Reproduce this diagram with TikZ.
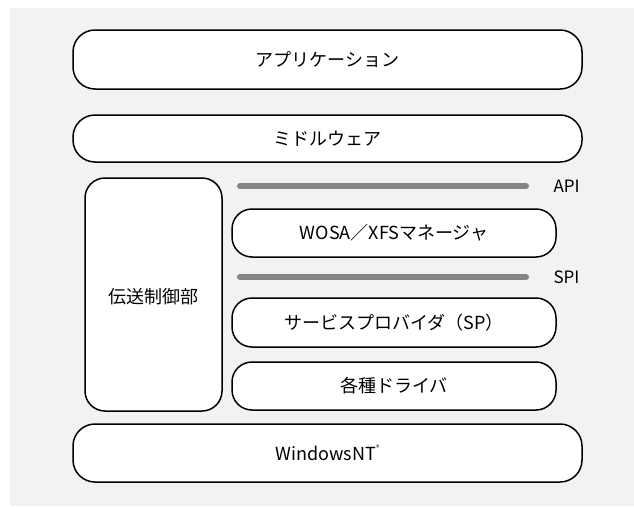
\documentclass[tikz,border=0pt]{standalone}
\usepackage{fontspec}
\setmainfont{Noto Sans CJK JP}
\begin{document}
\begin{tikzpicture}[x=1pt,y=-1pt,
  layer/.style={draw=black,line width=1.5pt,fill=white,rounded corners=22pt},
  txt/.style={font=\fontsize{18}{21}\selectfont},
  bar/.style={draw=black!48,line width=6pt,line cap=round},
  lbl/.style={font=\fontsize{17}{20}\selectfont,anchor=west}]
\fill[white] (0,0) rectangle (634,506);
\fill[black!5] (10,8) rectangle (634,506);
\useasboundingbox (0,0) rectangle (634,506);
% main layers
\draw[layer] (73,30) rectangle (582,89);
\node[txt] (app) at (327.5,59.5) {アプリケーション};
\draw[layer] (73,115) rectangle (582,162);
\node[txt] (mw) at (327.5,138.5) {ミドルウェア};
\draw[layer,rounded corners=20pt] (85,178) rectangle (222,411);
\node[txt] (tc) at (153.5,297) {伝送制御部};
\coordinate (apiL) at (240,186);
\coordinate (apiR) at (526,186);
\draw[bar] (apiL) -- (apiR);
\node[lbl] (api) at (550,186) {API};
\draw[layer,rounded corners=20pt] (232,209) rectangle (556,257);
\node[txt] (wosa) at (394,233) {WOSA／XFSマネージャ};
\coordinate (spiL) at (240,277);
\coordinate (spiR) at (526,277);
\draw[bar] (spiL) -- (spiR);
\node[lbl] (spi) at (550,277) {SPI};
\draw[layer,rounded corners=20pt] (232,298) rectangle (556,347);
\node[txt] (sp) at (394,322.5) {サービスプロバイダ（SP）};
\draw[layer,rounded corners=20pt] (232,362) rectangle (556,410);
\node[txt] (drv) at (394,386) {各種ドライバ};
\draw[layer] (73,424) rectangle (582,482);
\node[txt] (nt) at (327.5,453) {WindowsNT\raisebox{0.55em}{\fontsize{7}{8}\selectfont ®}};
\end{tikzpicture}
\end{document}
